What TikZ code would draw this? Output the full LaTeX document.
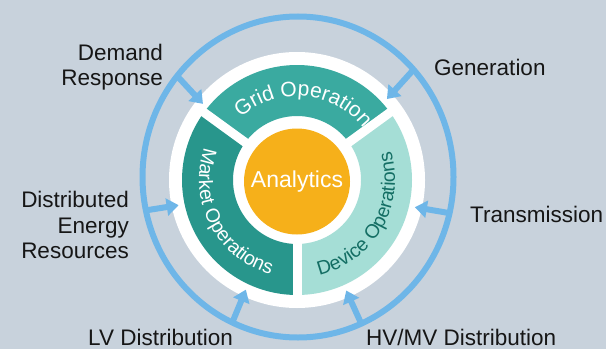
\documentclass[tikz,border=0pt]{standalone}
\usepackage{fontspec}
\setmainfont{Liberation Sans}
\usetikzlibrary{arrows.meta,decorations.text,calc}

\definecolor{bgc}{HTML}{C8D2DC}
\definecolor{ringc}{HTML}{6EB6E8}
\definecolor{gridc}{HTML}{3AAAA0}
\definecolor{marketc}{HTML}{28968C}
\definecolor{devicec}{HTML}{A5DED6}
\definecolor{devtextc}{HTML}{146E64}
\definecolor{orangec}{HTML}{F6B01A}
\definecolor{labelc}{HTML}{161616}

\newcommand\gridfnt{\fontsize{21bp}{21bp}\selectfont}
\newcommand\sidefnt{\fontsize{19.5bp}{19.5bp}\selectfont}

\begin{document}
\begin{tikzpicture}[x=1bp,y=1bp,
  lbl/.style={font=\fontsize{22.5bp}{25.5bp}\selectfont, text=labelc, inner sep=0pt},
  feed/.style={draw=ringc, line width=6bp, -{Triangle[length=12bp,width=17bp]}},
  gapline/.style={white, line width=9bp},
]
% canvas
\fill[bgc] (0,0) rectangle (606,349);
\useasboundingbox (0,0) rectangle (606,349);

\coordinate (c) at (297,169);
\coordinate (rc) at (298,172);

% outer feedback ring
\draw[ringc, line width=6bp] (rc) ellipse [x radius=155.5, y radius=160.5];

% white base disc
\fill[white] (c) circle[radius=128];

% inbound arrows from the ring
\foreach \n/\a in {dr/141, gen/42, tr/-13, der/192, lv/245, hv/294} {
  \coordinate (\n-o) at ($(rc)+(\a:155.5 and 160.5)$);
  \coordinate (\n-i) at ($(c)+(\a:121)$);
  \draw[feed] (\n-o) -- (\n-i);
}

% three operation segments
\begin{scope}[shift={(c)}]
  \fill[gridc] (36:115) arc[start angle=36,end angle=144,radius=115]
    -- (144:64) arc[start angle=144,end angle=36,radius=64] -- cycle;
  \fill[marketc] (144:115) arc[start angle=144,end angle=270,radius=115]
    -- (270:64) arc[start angle=270,end angle=144,radius=64] -- cycle;
  \fill[devicec] (270:115) arc[start angle=270,end angle=396,radius=115]
    -- (396:64) arc[start angle=396,end angle=270,radius=64] -- cycle;
  \foreach \a in {36,144,270} \draw[gapline] (\a:58) -- (\a:121);

  % curved segment titles
  \path[decorate, decoration={text along path, text align=center,
      text color=white, text={|\gridfnt|Grid Operation}}]
    (150:84) arc[start angle=150,end angle=20,radius=84];
  \path[decorate, decoration={text along path, text align=center,
      text color=white, text={|\sidefnt|Market Operations}}]
    (150:98) arc[start angle=150,end angle=265,radius=98];
  \path[decorate, decoration={text along path, text align=center,
      text color=devtextc, text={|\sidefnt|Device Operations}}]
    (265:98) arc[start angle=265,end angle=395,radius=98];
\end{scope}

% core
\node[circle, fill=orangec, minimum size=106bp, inner sep=0pt, text=white,
      font=\fontsize{23bp}{23bp}\selectfont] (analytics) at (297,167.5) {Analytics};

% domain labels
\node[lbl, align=right, anchor=east] (lbl-dr) at (163,282) {Demand\\Response};
\node[lbl, anchor=west] (lbl-gen) at (434,281.5) {Generation};
\node[lbl, anchor=west] (lbl-tr) at (470,134.5) {Transmission};
\node[lbl, align=right, anchor=east] (lbl-der) at (129,124) {Distributed\\Energy\\Resources};
\node[lbl, anchor=west] (lbl-lv) at (88,12) {LV Distribution};
\node[lbl, anchor=west] (lbl-hv) at (366,12) {HV/MV Distribution};
\end{tikzpicture}
\end{document}
